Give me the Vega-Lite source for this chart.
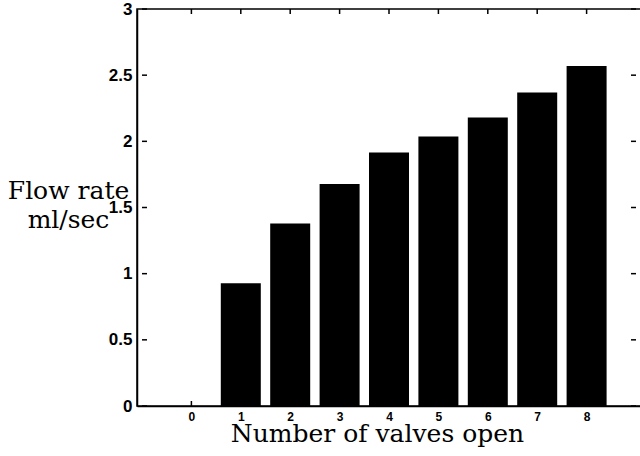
{
  "$schema": "https://vega.github.io/schema/vega-lite/v6.json",
  "autosize": "none",
  "width": 504,
  "height": 397,
  "padding": {"left": 137, "top": 9, "right": 0, "bottom": 50},
  "background": "white",
  "datasets": {
    "flow": [
      {"valves": 0, "flow": 0},
      {"valves": 1, "flow": 0.927},
      {"valves": 2, "flow": 1.38},
      {"valves": 3, "flow": 1.677},
      {"valves": 4, "flow": 1.916},
      {"valves": 5, "flow": 2.037},
      {"valves": 6, "flow": 2.18},
      {"valves": 7, "flow": 2.369},
      {"valves": 8, "flow": 2.57}
    ],
    "yticks": [{"v": 0}, {"v": 0.5}, {"v": 1}, {"v": 1.5}, {"v": 2}, {"v": 2.5}, {"v": 3}]
  },
  "config": {
    "view": {"stroke": "black", "strokeWidth": 1.5}
  },
  "layer": [
    {
      "data": {"name": "flow"},
      "mark": {"type": "bar", "color": "black", "size": 40},
      "encoding": {
        "x": {
          "field": "valves", "type": "quantitative",
          "scale": {"domain": [-1, 9], "nice": false, "zero": false},
          "axis": {
            "orient": "bottom", "values": [0,1,2,3,4,5,6,7,8], "format": "~g",
            "grid": false, "domainColor": "black", "domainWidth": 1.5,
            "ticks": false, "tickSize": 0,
            "labelFont": "Liberation Sans", "labelFontWeight": "bold", "labelFontSize": 12, "labelColor": "black",
            "labelPadding": 5, "labelFlush": false,
            "title": "Number of valves open",
            "titleFont": "DejaVu Serif", "titleFontWeight": "normal", "titleFontSize": 25, "titleColor": "black",
            "titleX": 240, "titleY": 35, "titleBaseline": "alphabetic", "titleAlign": "center"
          }
        },
        "y": {
          "field": "flow", "type": "quantitative",
          "scale": {"domain": [0, 3], "nice": false},
          "axis": {
            "orient": "left", "values": [0,0.5,1,1.5,2,2.5,3], "format": "~g",
            "grid": false, "domainColor": "black", "domainWidth": 1.5,
            "ticks": false, "tickSize": 0,
            "labelFont": "Liberation Sans", "labelFontWeight": "bold", "labelFontSize": 17, "labelColor": "black",
            "labelPadding": 5, "labelFlush": false,
            "title": ["Flow rate", "ml/sec"],
            "titleFont": "DejaVu Serif", "titleFontWeight": "normal", "titleFontSize": 25, "titleColor": "black",
            "titleAngle": 0, "titleX": -69, "titleY": 189,
            "titleAlign": "center", "titleBaseline": "alphabetic", "titleLineHeight": 29
          }
        }
      }
    },
    {
      "data": {"name": "flow"},
      "mark": {"type": "rule", "color": "black", "strokeWidth": 1.5, "y2Offset": 5},
      "encoding": {
        "x": {"field": "valves", "type": "quantitative"},
        "y": {"datum": 3, "type": "quantitative"},
        "y2": {"datum": 3}
      }
    },
    {
      "data": {"name": "flow"},
      "mark": {"type": "rule", "color": "black", "strokeWidth": 1.5, "y2Offset": -5},
      "encoding": {
        "x": {"field": "valves", "type": "quantitative"},
        "y": {"datum": 0, "type": "quantitative"},
        "y2": {"datum": 0}
      }
    },
    {
      "data": {"name": "yticks"},
      "mark": {"type": "rule", "color": "black", "strokeWidth": 1.5, "x2Offset": 5},
      "encoding": {
        "y": {"field": "v", "type": "quantitative"},
        "x": {"datum": -1, "type": "quantitative"},
        "x2": {"datum": -1}
      }
    },
    {
      "data": {"name": "yticks"},
      "mark": {"type": "rule", "color": "black", "strokeWidth": 1.5, "x2Offset": -5},
      "encoding": {
        "y": {"field": "v", "type": "quantitative"},
        "x": {"datum": 9, "type": "quantitative"},
        "x2": {"datum": 9}
      }
    }
  ]
}
